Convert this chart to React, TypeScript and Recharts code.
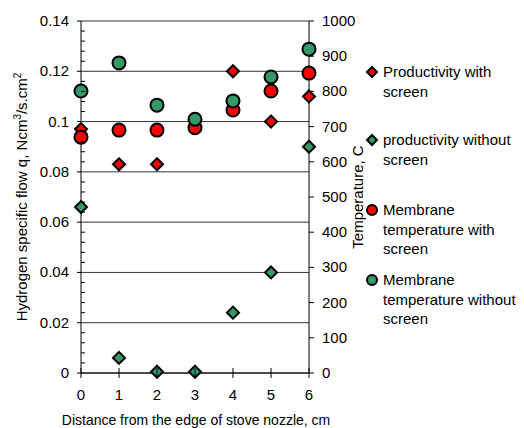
import React from 'react';
import { ComposedChart, Scatter, XAxis, YAxis, CartesianGrid } from 'recharts';

const distances = [0, 1, 2, 3, 4, 5, 6];
const productivityWithScreen = [0.097, 0.083, 0.083, null, 0.12, 0.1, 0.11];
const productivityWithoutScreen = [0.066, 0.006, 0.0005, 0.0005, 0.024, 0.04, 0.09];
const membraneTempWithScreen = [670, 690, 690, 697, 747, 801, 852];
const membraneTempWithoutScreen = [801, 881, 761, 721, 773, 841, 920];

const flowTicks = [0, 0.02, 0.04, 0.06, 0.08, 0.1, 0.12, 0.14];
const tempTicks = [0, 100, 200, 300, 400, 500, 600, 700, 800, 900, 1000];
const distanceTicks = [0, 1, 2, 3, 4, 5, 6];

const legendItems = [
  { lines: ['Productivity with', 'screen'], fill: '#FF0000', shape: 'diamond', top: 62 },
  { lines: ['productivity without', 'screen'], fill: '#339966', shape: 'diamond', top: 130 },
  { lines: ['Membrane', 'temperature with', 'screen'], fill: '#FF0000', shape: 'circle', top: 200 },
  { lines: ['Membrane', 'temperature without', 'screen'], fill: '#339966', shape: 'circle', top: 270 },
];

const FONT = '"Liberation Sans", Arial, sans-serif';

// minor ticks every 0.004 between the labelled ones
const flowMinorTicks = flowTicks.flatMap((v, i) =>
  i === flowTicks.length - 1 ? [v] : [v, v + 0.004, v + 0.008, v + 0.012, v + 0.016]
);

const toPoints = (ys: (number | null)[]) =>
  distances.map((x, i) => ({ x, y: ys[i] })).filter((p) => p.y !== null);

const Diamond = (props: any) => {
  const { cx, cy, fill } = props;
  const s = 6;
  return (
    <polygon
      points={`${cx},${cy - s} ${cx + s},${cy} ${cx},${cy + s} ${cx - s},${cy}`}
      fill={fill}
      stroke="#000"
      strokeWidth={2}
    />
  );
};

const Dot = (props: any) => {
  const { cx, cy, fill } = props;
  return <circle cx={cx} cy={cy} r={6.5} fill={fill} stroke="#000" strokeWidth={2} />;
};

const LeftTick = (props: any) => {
  const { x, y, payload } = props;
  const v = payload.value;
  const major = flowTicks.some((t) => Math.abs(t - v) < 1e-9);
  if (!major) return <line x1={x} x2={x + 4} y1={y} y2={y} stroke="#000" />;
  const label = flowTicks.find((t) => Math.abs(t - v) < 1e-9);
  return (
    <g>
      <line x1={x - 4} x2={x} y1={y} y2={y} stroke="#000" />
      <text x={x - 12} y={y + 5} textAnchor="end" fontSize={15} fontFamily={FONT} fill="#000">
        {String(label)}
      </text>
    </g>
  );
};

const RightTick = (props: any) => {
  const { x, y, payload } = props;
  return (
    <g>
      <line x1={x} x2={x + 5} y1={y} y2={y} stroke="#000" />
      <text x={x + 13} y={y + 5} textAnchor="start" fontSize={15} fontFamily={FONT} fill="#000">
        {payload.value}
      </text>
    </g>
  );
};

const BottomTick = (props: any) => {
  const { x, y, payload } = props;
  return (
    <g>
      <line x1={x} x2={x} y1={y - 5} y2={y + 5} stroke="#000" />
      <text x={x} y={y + 27} textAnchor="middle" fontSize={15} fontFamily={FONT} fill="#000">
        {payload.value}
      </text>
    </g>
  );
};

const LeftTitle = () => (
  <text
    x={27}
    y={197}
    transform="rotate(-90 27 197)"
    textAnchor="middle"
    fontSize={15}
    fontFamily={FONT}
    fill="#000"
  >
    Hydrogen specific flow q, Ncm
    <tspan dy={-6} fontSize={10}>3</tspan>
    <tspan dy={6}>/s.cm</tspan>
    <tspan dy={-6} fontSize={10}>2</tspan>
  </text>
);

const RightTitle = () => (
  <text
    x={363}
    y={197}
    transform="rotate(-90 363 197)"
    textAnchor="middle"
    fontSize={15}
    fontFamily={FONT}
    fill="#000"
  >
    Temperature, C
  </text>
);

const BottomTitle = () => (
  <text x={196} y={425} textAnchor="middle" fontSize={14} fontFamily={FONT} fill="#000">
    Distance from the edge of stove nozzle, cm
  </text>
);

const LegendMarker = ({ shape, fill }: { shape: string; fill: string }) => (
  <svg width={14} height={14} style={{ position: 'absolute', left: -18, top: 3 }}>
    {shape === 'diamond' ? (
      <polygon points="7,2 12,7 7,12 2,7" fill={fill} stroke="#000" strokeWidth={2} />
    ) : (
      <circle cx={7} cy={7} r={5} fill={fill} stroke="#000" strokeWidth={2} />
    )}
  </svg>
);

export default function App() {
  return (
    <div style={{ position: 'absolute', left: 0, top: 0, width: 524, height: 428, background: '#fff' }}>
      <ComposedChart width={524} height={428} margin={{ top: 21, right: 165, bottom: 0, left: 0 }}>
        <CartesianGrid
          yAxisId="flow"
          vertical={false}
          horizontalValues={flowTicks}
          stroke="#333"
          strokeDasharray=""
        />
        <XAxis
          type="number"
          dataKey="x"
          domain={[0, 6]}
          ticks={distanceTicks}
          height={55}
          tickSize={0}
          tickMargin={0}
          tickLine={false}
          axisLine={{ stroke: '#000' }}
          tick={<BottomTick />}
          label={<BottomTitle />}
        />
        <YAxis
          yAxisId="flow"
          type="number"
          dataKey="y"
          domain={[0, 0.14]}
          ticks={flowMinorTicks}
          interval={0}
          width={81}
          tickSize={0}
          tickMargin={0}
          tickLine={false}
          axisLine={{ stroke: '#000' }}
          tick={<LeftTick />}
          label={<LeftTitle />}
        />
        <YAxis
          yAxisId="temp"
          orientation="right"
          type="number"
          dataKey="y"
          domain={[0, 1000]}
          ticks={tempTicks}
          interval={0}
          width={50}
          tickSize={0}
          tickMargin={0}
          tickLine={false}
          axisLine={{ stroke: '#000' }}
          tick={<RightTick />}
          label={<RightTitle />}
        />
        <Scatter
          name="Productivity with screen"
          yAxisId="flow"
          data={toPoints(productivityWithScreen)}
          fill="#FF0000"
          shape={<Diamond />}
          isAnimationActive={false}
        />
        <Scatter
          name="productivity without screen"
          yAxisId="flow"
          data={toPoints(productivityWithoutScreen)}
          fill="#339966"
          shape={<Diamond />}
          isAnimationActive={false}
        />
        <Scatter
          name="Membrane temperature with screen"
          yAxisId="temp"
          data={toPoints(membraneTempWithScreen)}
          fill="#FF0000"
          shape={<Dot />}
          isAnimationActive={false}
        />
        <Scatter
          name="Membrane temperature without screen"
          yAxisId="temp"
          data={toPoints(membraneTempWithoutScreen)}
          fill="#339966"
          shape={<Dot />}
          isAnimationActive={false}
        />
      </ComposedChart>
      {legendItems.map((item) => (
        <div
          key={item.lines.join(' ')}
          style={{
            position: 'absolute',
            left: 383,
            top: item.top,
            fontFamily: FONT,
            fontSize: 15,
            lineHeight: '19.5px',
            color: '#000',
            whiteSpace: 'nowrap',
          }}
        >
          <LegendMarker shape={item.shape} fill={item.fill} />
          {item.lines.map((l) => (
            <div key={l}>{l}</div>
          ))}
        </div>
      ))}
    </div>
  );
}
